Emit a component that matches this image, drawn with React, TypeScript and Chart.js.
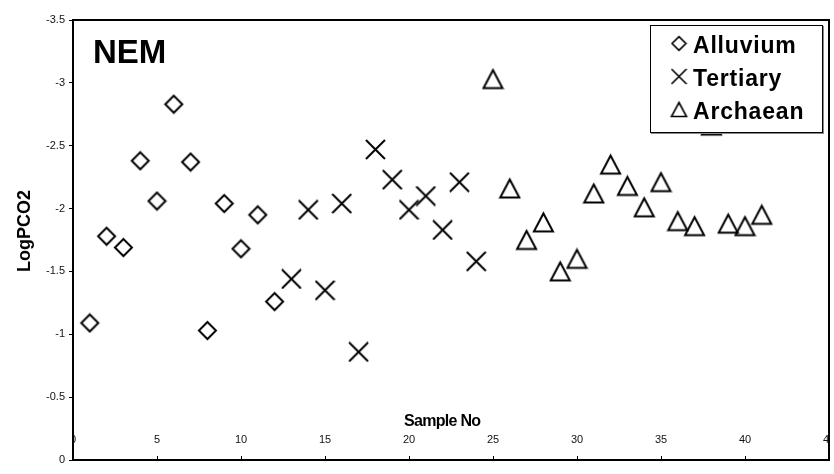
import { useEffect, useRef } from "react";
import { Chart, registerables } from "chart.js";

Chart.register(...registerables);

const alluviumX = [1, 2, 3, 4, 5, 6, 7, 8, 9, 10, 11, 12];
const alluviumY = [-1.09, -1.78, -1.69, -2.38, -2.06, -2.83, -2.37, -1.03, -2.04, -1.68, -1.95, -1.26];

const tertiaryX = [13, 14, 15, 16, 17, 18, 19, 20, 21, 22, 23, 24];
const tertiaryY = [-1.44, -1.99, -1.35, -2.04, -0.86, -2.47, -2.23, -1.99, -2.1, -1.83, -2.21, -1.58];

const archaeanX = [25, 26, 27, 28, 29, 30, 31, 32, 33, 34, 35, 36, 37, 38, 39, 40, 41];
const archaeanY = [-3.03, -2.16, -1.75, -1.89, -1.5, -1.6, -2.12, -2.35, -2.18, -2.01, -2.21, -1.9, -1.86, -2.66, -1.88, -1.86, -1.95];

const seriesLabels = ["Alluvium", "Tertiary", "Archaean"];
const xTicks = [0, 5, 10, 15, 20, 25, 30, 35, 40, 45];
const yTicks = [0, -0.5, -1, -1.5, -2, -2.5, -3, -3.5];
const chartTitle = "NEM";
const xTitle = "Sample No";
const yTitle = "LogPCO2";

const FONT = "'Liberation Sans', Arial, Helvetica, sans-serif";

type Kind = "diamond" | "cross" | "triangle";

function makeMarker(kind: Kind, size: number, lw: number): HTMLCanvasElement {
  const c = document.createElement("canvas");
  c.width = size;
  c.height = size;
  const g = c.getContext("2d")!;
  g.strokeStyle = "#000";
  g.lineWidth = lw;
  g.lineJoin = "miter";
  g.beginPath();
  const h = size / 2;
  if (kind === "diamond") {
    const m = lw;
    g.moveTo(h, m);
    g.lineTo(size - m, h);
    g.lineTo(h, size - m);
    g.lineTo(m, h);
    g.closePath();
  } else if (kind === "cross") {
    const m = 1;
    g.moveTo(m, m);
    g.lineTo(size - m, size - m);
    g.moveTo(size - m, m);
    g.lineTo(m, size - m);
  } else {
    const top = 2.5;
    const bot = size - 2.5;
    g.moveTo(h, top);
    g.lineTo(size - 2, bot);
    g.lineTo(2, bot);
    g.closePath();
  }
  g.stroke();
  return c;
}

export default function App() {
  const ref = useRef<HTMLCanvasElement | null>(null);

  useEffect(() => {
    if (!ref.current) return;
    const kinds: Kind[] = ["diamond", "cross", "triangle"];
    const bigSizes = [21, 21, 23];
    const smallSizes = [17, 17, 19];
    const big = kinds.map((k, i) => makeMarker(k, bigSizes[i], 2));
    const small = kinds.map((k, i) => makeMarker(k, smallSizes[i], 1.6));

    const toPts = (xs: number[], ys: number[]) => xs.map((x, i) => ({ x, y: ys[i] }));

    const overlay = {
      id: "overlay",
      afterDatasetsDraw(chart: any) {
        const { ctx, chartArea: a, scales } = chart;
        const xs = scales.x;
        ctx.save();

        // x ticks and labels inside the plot area
        ctx.save();
        ctx.beginPath();
        ctx.rect(a.left, a.top, a.right - a.left, a.bottom - a.top);
        ctx.clip();
        ctx.strokeStyle = "#000";
        ctx.lineWidth = 1;
        ctx.fillStyle = "#111";
        ctx.font = `11px ${FONT}`;
        ctx.textAlign = "center";
        ctx.textBaseline = "alphabetic";
        xTicks.forEach((v) => {
          const px = xs.getPixelForValue(v);
          const lx = Math.round(px) + 0.5;
          ctx.beginPath();
          ctx.moveTo(lx, a.bottom);
          ctx.lineTo(lx, a.bottom - 4);
          ctx.stroke();
          ctx.fillText(String(v), px, a.bottom - 17);
        });
        ctx.restore();

        // x title
        ctx.fillStyle = "#000";
        ctx.font = `bold 16px ${FONT}`;
        (ctx as any).letterSpacing = "-0.7px";
        ctx.textAlign = "left";
        ctx.fillText(xTitle, a.left + 331, a.bottom - 34);
        (ctx as any).letterSpacing = "0px";

        // y title
        ctx.save();
        ctx.translate(30, 231);
        ctx.rotate(-Math.PI / 2);
        ctx.font = `bold 18px ${FONT}`;
        ctx.textAlign = "center";
        ctx.fillText(yTitle, 0, 0);
        ctx.restore();

        // chart title
        ctx.font = `bold 33px ${FONT}`;
        ctx.textAlign = "left";
        ctx.fillText(chartTitle, a.left + 20, a.top + 43);

        // frame
        ctx.strokeStyle = "#000";
        ctx.lineWidth = 2;
        ctx.strokeRect(a.left, a.top, a.right - a.left, a.bottom - a.top);

        // legend
        const lx0 = a.right - 179;
        const ly0 = a.top + 5;
        const lw = 173;
        const lh = 108;
        ctx.fillStyle = "#8a8a8a";
        ctx.fillRect(lx0 + 1, ly0 + 1, lw, lh);
        ctx.fillStyle = "#fff";
        ctx.fillRect(lx0, ly0, lw, lh);
        ctx.strokeStyle = "#000";
        ctx.lineWidth = 1;
        ctx.strokeRect(lx0 + 0.5, ly0 + 0.5, lw - 1, lh - 1);
        ctx.font = `bold 23px ${FONT}`;
        (ctx as any).letterSpacing = "0.8px";
        ctx.fillStyle = "#000";
        chart.data.datasets.forEach((ds: any, i: number) => {
          const base = ly0 + 27.5 + i * 33;
          const img = small[i];
          ctx.drawImage(img, lx0 + 29 - img.width / 2, base - 9 - img.height / 2);
          ctx.fillText(ds.label, lx0 + 43, base);
        });
        (ctx as any).letterSpacing = "0px";

        ctx.restore();
      },
    };

    const chart = new Chart(ref.current, {
      type: "scatter",
      data: {
        datasets: [
          { label: seriesLabels[0], data: toPts(alluviumX, alluviumY), pointStyle: big[0] as any },
          { label: seriesLabels[1], data: toPts(tertiaryX, tertiaryY), pointStyle: big[1] as any },
          { label: seriesLabels[2], data: toPts(archaeanX, archaeanY), pointStyle: big[2] as any },
        ],
      },
      options: {
        responsive: false,
        animation: false,
        events: [],
        layout: { padding: { top: 20, right: 4, left: 0, bottom: 0 } },
        plugins: {
          legend: { display: false },
          tooltip: { enabled: false },
          title: { display: false },
        },
        scales: {
          x: {
            type: "linear",
            min: 0,
            max: 45,
            ticks: { display: false, stepSize: 5 },
            grid: { display: false },
            border: { display: false },
            afterFit: (s: any) => {
              s.height = 14;
            },
          },
          y: {
            type: "linear",
            min: -3.5,
            max: 0,
            reverse: true,
            afterBuildTicks: (s: any) => {
              s.ticks = yTicks.map((v) => ({ value: v }));
            },
            ticks: {
              color: "#111",
              font: { family: FONT, size: 11 },
              padding: 4,
              callback: (v: any) => String(Math.round(Number(v) * 10) / 10),
            },
            grid: {
              display: true,
              drawOnChartArea: false,
              drawTicks: true,
              tickLength: 4,
              color: "#000",
              lineWidth: 1,
            },
            border: { display: false },
            afterFit: (s: any) => {
              s.width = 73;
            },
          },
        },
      },
      plugins: [overlay],
    });

    return () => chart.destroy();
  }, []);

  return (
    <div style={{ position: "fixed", left: 0, top: 0, width: 834, height: 474, background: "#fff" }}>
      <canvas ref={ref} width={834} height={474} style={{ display: "block" }} />
    </div>
  );
}
